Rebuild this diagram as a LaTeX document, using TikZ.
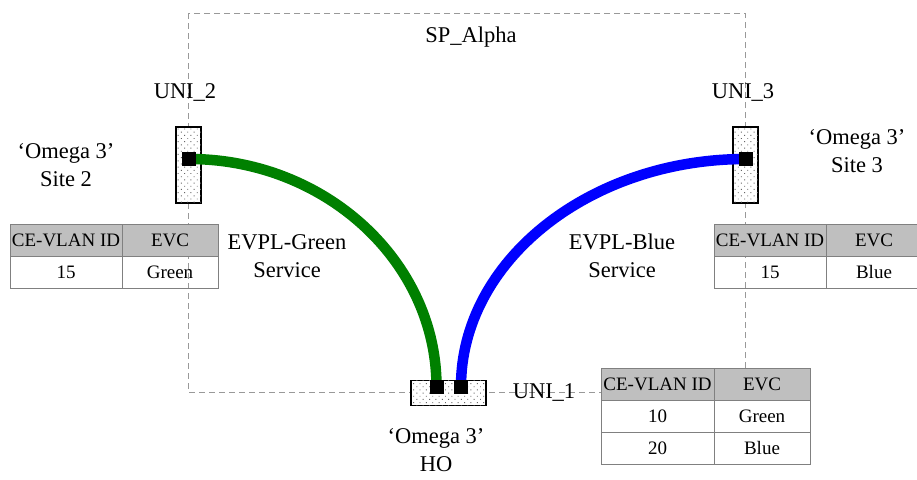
\documentclass[tikz,border=0pt]{standalone}
\usepackage{fontspec}
\setmainfont{Liberation Serif}
\usetikzlibrary{positioning,patterns.meta}
\pgfdeclarelayer{background}
\pgfdeclarelayer{mid}
\pgfsetlayers{background,mid,main}

\begin{document}
\begin{tikzpicture}[x=1pt,y=-1pt,
	every node/.style={font=\fontsize{22.5}{28}\selectfont, align=center, inner sep=0pt, outer sep=0pt},
	border/.style={draw=gray!80, dash pattern=on 6pt off 4pt, line width=1pt},
	port/.style={draw, line width=1.3pt, fill=white,
		postaction={pattern={Dots[distance=4.5pt,radius=0.65pt,angle=45]}, pattern color=gray!80!black}},
	portsq/.style={fill=black, minimum size=14pt},
	tcell/.style={draw=gray, line width=1pt, minimum height=32pt, font=\fontsize{19}{22}\selectfont},
	thead/.style={tcell, fill=gray!50},
	tbody/.style={tcell, fill=white},
	idcol/.style={minimum width=112pt},
	evccol/.style={minimum width=96pt},
	evc/.style={line width=10.5pt}
	]
  \useasboundingbox (0,0) rectangle (917,479);
  \begin{pgfonlayer}{background}
  \draw [border] (188,13) rectangle (745,392);
  \node [port, minimum width=25pt, minimum height=76pt] (uni2) at (188.5,165) {};
  \node [port, minimum width=25pt, minimum height=76pt] (uni3) at (745.5,165) {};
  \node [port, minimum width=75pt, minimum height=25pt] (uni1) at (448.5,393) {};
  \end{pgfonlayer}
  % labels
  \node (sp) at (471,37) {SP\_Alpha};
  \node (l2) at (185,92) {UNI\_2};
  \node (l3) at (743,92) {UNI\_3};
  \node (l1) at (544,393) {UNI\_1};
  \node (site2) at (66,165) {`Omega 3'\\Site 2};
  \node (site3) at (857,151) {`Omega 3'\\Site 3};
  \node (ho) at (436,450) {`Omega 3'\\HO};
  \node (svcg) at (287,256) {EVPL-Green\\Service};
  \node (svcb) at (622,256) {EVPL-Blue\\Service};
  % port squares
  \node [portsq] (sq2) at (189,159) {};
  \node [portsq] (sq3) at (746,159) {};
  \node [portsq] (sq1g) at (436.5,386.5) {};
  \node [portsq] (sq1b) at (461,386.5) {};
  \begin{pgfonlayer}{mid}
  \draw [evc, green!50!black] (sq2.center) .. controls +(136,0) and +(0,-125) .. (sq1g.center);
  \draw [evc, blue] (sq1b.center) .. controls +(0,-125) and +(-157,0) .. (sq3.center);
  \end{pgfonlayer}
  % UNI_2 table
  \node [thead, idcol, anchor=north west] (a1) at (10,224) {CE-VLAN ID};
  \node [thead, evccol, right=0pt of a1] (a2) {EVC};
  \node [tcell, idcol, below=0pt of a1] (a3) {15};
  \node [tcell, evccol, below=0pt of a2] (a4) {Green};
  % UNI_3 table
  \node [thead, idcol, anchor=north west] (b1) at (714,224) {CE-VLAN ID};
  \node [thead, evccol, right=0pt of b1] (b2) {EVC};
  \node [tcell, idcol, below=0pt of b1] (b3) {15};
  \node [tcell, evccol, below=0pt of b2] (b4) {Blue};
  % UNI_1 table
  \node [thead, idcol, minimum width=113pt, anchor=north west] (c1) at (601,368) {CE-VLAN ID};
  \node [thead, evccol, right=0pt of c1] (c2) {EVC};
  \node [tbody, idcol, minimum width=113pt, below=0pt of c1] (c3) {10};
  \node [tbody, evccol, below=0pt of c2] (c4) {Green};
  \node [tbody, idcol, minimum width=113pt, below=0pt of c3] (c5) {20};
  \node [tbody, evccol, below=0pt of c4] (c6) {Blue};
\end{tikzpicture}
\end{document}
